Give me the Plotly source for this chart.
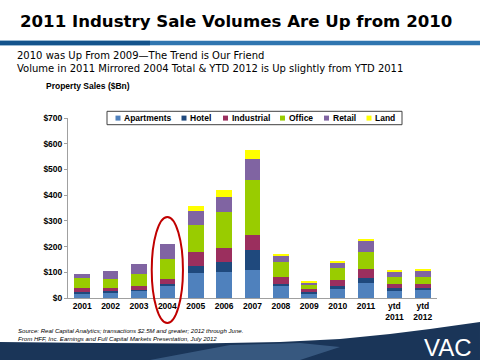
import plotly.graph_objects as go

years = ["2001", "2002", "2003", "2004", "2005", "2006", "2007", "2008",
         "2009", "2010", "2011", "ytd<br>2011", "ytd<br>2012"]
apartments = [18, 22, 28, 48, 97, 101, 109, 45, 17, 35, 58, 28, 31]
hotel = [4, 5, 4, 5, 28, 39, 78, 9, 6, 13, 18, 10, 9]
industrial = [16, 11, 16, 21, 53, 54, 58, 26, 11, 22, 36, 15, 13]
office = [38, 36, 46, 77, 104, 139, 214, 60, 15, 48, 65, 27, 30]
retail = [17, 31, 37, 58, 57, 61, 80, 24, 13, 20, 43, 23, 22]
land = [0, 0, 0, 0, 19, 25, 35, 8, 4, 5, 9, 5, 7]

series_names = ["Apartments", "Hotel", "Industrial", "Office", "Retail", "Land"]
series_values = [apartments, hotel, industrial, office, retail, land]
colors = ["#4F81BD", "#1F497D", "#9B2F5E", "#99CC00", "#8064A2", "#FFFF00"]

highlight_year = "2004"

# plot-area geometry (pixels)
L, R, T, B = 68, 437, 118, 298
W, H = R - L, B - T


def px(x):
    return (x - L) / W


def py(y):
    return (B - y) / H


fig = go.Figure()
for name, vals, col in zip(series_names, series_values, colors):
    fig.add_trace(go.Bar(x=years, y=vals, name=name, marker_color=col,
                         marker_line_width=0, showlegend=False, hoverinfo="skip"))

shapes = []
annotations = []

# header bar
shapes.append(dict(type="rect", xref="paper", yref="paper",
                   x0=px(0), x1=px(480), y0=py(45.3), y1=py(40.7),
                   fillcolor="#2F76B0", line_width=0, layer="below"))
shapes.append(dict(type="rect", xref="paper", yref="paper",
                   x0=px(0), x1=px(150), y0=py(45.3), y1=py(40.7),
                   fillcolor="#13538C", line_width=0, layer="below"))


# footer swoosh
def path(points):
    s = "M {:.4f},{:.4f}".format(px(points[0][0]), py(points[0][1]))
    for p in points[1:]:
        s += " L {:.4f},{:.4f}".format(px(p[0]), py(p[1]))
    return s + " Z"


sw = [(0, 342), (100, 343), (200, 343.5), (280, 342), (340, 339),
      (390, 334), (430, 329), (480, 322), (480, 360), (0, 360)]
shapes.append(dict(type="path", xref="paper", yref="paper", path=path(sw),
                   fillcolor="#1A3558", line_width=0))
hl = [(150, 360), (230, 345), (300, 343), (340, 347), (300, 360)]
shapes.append(dict(type="path", xref="paper", yref="paper", path=path(hl),
                   fillcolor="rgba(90,130,175,0.45)", line_width=0))

# red ellipse around the highlighted year
hi = years.index(highlight_year)
shapes.append(dict(type="circle", xref="x", yref="paper",
                   x0=hi - 0.55, x1=hi + 0.55, y0=py(323), y1=py(217),
                   line=dict(color="#C00000", width=2), fillcolor="rgba(0,0,0,0)"))

# manual legend
shapes.append(dict(type="rect", xref="paper", yref="paper",
                   x0=px(107), x1=px(402), y0=py(124.7), y1=py(111.3),
                   line=dict(color="#404040", width=1), fillcolor="white"))
leg_x = [115.5, 181.5, 223, 280, 324, 366.5]
for name, col, lx in zip(series_names, colors, leg_x):
    shapes.append(dict(type="rect", xref="paper", yref="paper",
                       x0=px(lx), x1=px(lx + 5), y0=py(120.6), y1=py(115.6),
                       fillcolor=col, line_width=0))
    annotations.append(dict(xref="paper", yref="paper", x=px(lx + 6.5), y=py(118.2),
                            text="<b>" + name + "</b>", showarrow=False,
                            xanchor="left", yanchor="middle",
                            font=dict(family="Liberation Sans, Arial", size=8.5, color="black")))

# texts
annotations.append(dict(xref="paper", yref="paper", x=px(236), y=py(22),
                        text="<b>2011 Industry Sale Volumes Are Up from 2010</b>",
                        showarrow=False, xanchor="center", yanchor="middle",
                        font=dict(family="DejaVu Sans", size=16.6, color="black")))
annotations.append(dict(xref="paper", yref="paper", x=px(15), y=py(55.5),
                        text="2010 was Up From 2009\u2014The Trend is Our Friend",
                        showarrow=False, xanchor="left", yanchor="middle",
                        font=dict(family="DejaVu Sans", size=10, color="black")))
annotations.append(dict(xref="paper", yref="paper", x=px(15), y=py(68),
                        text="Volume in 2011 Mirrored 2004 Total & YTD 2012 is Up slightly from YTD 2011",
                        showarrow=False, xanchor="left", yanchor="middle",
                        font=dict(family="DejaVu Sans", size=10, color="black")))
annotations.append(dict(xref="paper", yref="paper", x=px(44), y=py(86),
                        text="<b>Property Sales ($Bn)</b>",
                        showarrow=False, xanchor="left", yanchor="middle",
                        font=dict(family="Liberation Sans, Arial", size=8.5, color="black")))
annotations.append(dict(xref="paper", yref="paper", x=px(16), y=py(334),
                        text="<i>Source: Real Capital Analytics; transactions $2.5M and greater; 2012 through June.<br>"
                             "From HFF, Inc. Earnings and Full Capital Markets Presentation, July 2012</i>",
                        showarrow=False, xanchor="left", yanchor="middle", align="left",
                        font=dict(family="Liberation Sans, Arial", size=6.1, color="black")))
annotations.append(dict(xref="paper", yref="paper", x=px(474), y=py(347),
                        text="VAC", showarrow=False, xanchor="right", yanchor="middle",
                        font=dict(family="Liberation Sans, Arial", size=24, color="white")))

fig.update_layout(
    barmode="stack",
    bargap=0.45,
    width=480, height=360,
    margin=dict(l=L, r=480 - R, t=T, b=360 - B, pad=0),
    paper_bgcolor="white", plot_bgcolor="white",
    shapes=shapes, annotations=annotations,
    xaxis=dict(showline=True, linecolor="#A0A0A0", linewidth=1, ticks="",
               showgrid=False, fixedrange=True,
               tickvals=years, ticktext=["<b>" + y + "</b>" for y in years],
               tickfont=dict(family="Liberation Sans, Arial", size=8.5, color="black")),
    yaxis=dict(range=[0, 700], showline=True, fixedrange=True,
               tickvals=list(range(0, 701, 100)),
               ticktext=["<b>$" + str(v) + "</b>" for v in range(0, 701, 100)],
               linecolor="#A0A0A0", linewidth=1, ticks="outside", ticklen=3,
               tickcolor="#A0A0A0", showgrid=False, zeroline=False,
               tickfont=dict(family="Liberation Sans, Arial", size=8.5, color="black")),
)

fig.write_html("out.html", config={"displayModeBar": False},
               post_script="document.body.style.margin='0';document.body.style.overflow='hidden';")
